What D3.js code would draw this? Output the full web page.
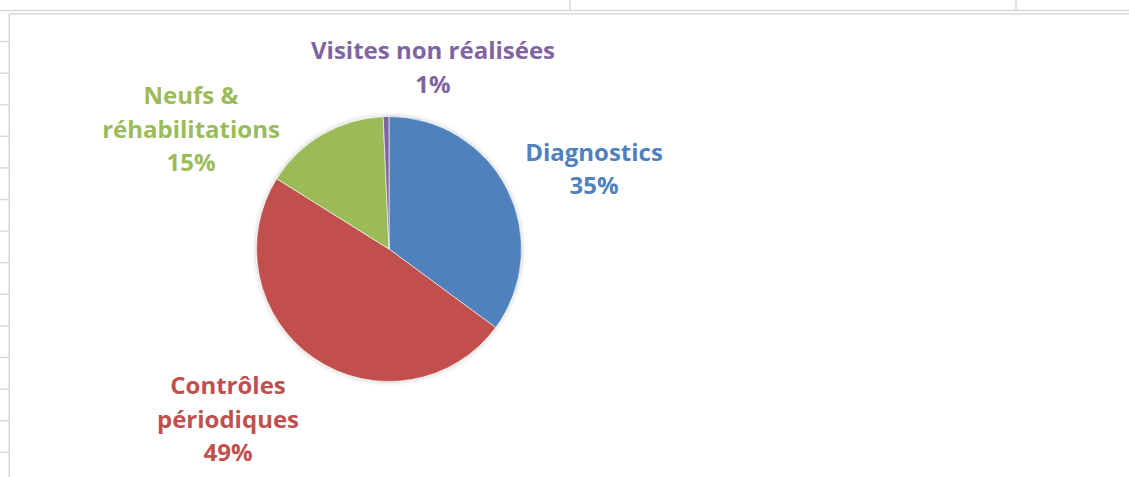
<!DOCTYPE html>
<html>
<head>
<meta charset="utf-8">
<script src="https://cdn.jsdelivr.net/npm/d3@7"></script>
<style>
  body { margin: 0; background: #fff; }
  svg { display: block; }
  .lbl { font-family: "Open Sans", sans-serif; font-weight: 700; font-size: 24px; }
</style>
</head>
<body>
<script>
// chart data
var categories = ["Diagnostics", "Contrôles périodiques", "Neufs & réhabilitations", "Visites non réalisées"];
var values = [35.1, 48.8, 15.4, 0.7];
var labelLines = [["Diagnostics"], ["Contrôles", "périodiques"], ["Neufs &", "réhabilitations"], ["Visites non réalisées"]];
var colors = ["#4f81bd", "#c0504d", "#9bbb59", "#8064a2"];

var width = 1129, height = 477;
var cx = 389, cy = 249, radius = 132.5;

var svg = d3.select("body").append("svg")
    .attr("width", width)
    .attr("height", height);

// spreadsheet grid behind the chart
var grid = svg.append("g").attr("stroke", "#d9d9d9").attr("stroke-width", 1.5);
grid.append("line").attr("x1", 0).attr("x2", width).attr("y1", 10.5).attr("y2", 10.5);
[570, 1016].forEach(function (x) {
    grid.append("line").attr("x1", x).attr("x2", x).attr("y1", 0).attr("y2", 10);
});
d3.range(41.5, height, 31.6).forEach(function (y) {
    grid.append("line").attr("x1", 0).attr("x2", 9).attr("y1", y).attr("y2", y);
});
// chart area border
grid.append("line").attr("x1", 9).attr("x2", width).attr("y1", 14).attr("y2", 14);
grid.append("line").attr("x1", 9.2).attr("x2", 9.2).attr("y1", 14).attr("y2", height);

var defs = svg.append("defs");
var shadow = defs.append("filter").attr("id", "shadow")
    .attr("x", "-20%").attr("y", "-20%").attr("width", "140%").attr("height", "140%");
shadow.append("feGaussianBlur").attr("in", "SourceAlpha").attr("stdDeviation", 2.5);
shadow.append("feOffset").attr("dx", 0).attr("dy", 0).attr("result", "blur");
shadow.append("feComponentTransfer").append("feFuncA").attr("type", "linear").attr("slope", 0.25);
var merge = shadow.append("feMerge");
merge.append("feMergeNode");
merge.append("feMergeNode").attr("in", "SourceGraphic");

var pie = d3.pie().sort(null).value(function (d) { return d; });
var arc = d3.arc().innerRadius(0).outerRadius(radius);
var total = d3.sum(values);

var g = svg.append("g").attr("transform", "translate(" + cx + "," + cy + ")");

g.append("g").attr("filter", "url(#shadow)")
    .selectAll("path")
    .data(pie(values))
    .enter().append("path")
    .attr("d", arc)
    .attr("fill", function (d, i) { return colors[i]; })
    .attr("stroke", "#fff")
    .attr("stroke-width", 0.6);

// label placement, relative to the pie centre (first baseline)
var labelAt = [[205, -88.3], [-161, 145], [-198, -144.7], [44, -190]];
var lineStep = 33.5;

var labels = g.selectAll(".lbl")
    .data(categories)
    .enter().append("text")
    .attr("class", "lbl")
    .attr("text-anchor", "middle")
    .attr("fill", function (d, i) { return colors[i]; })
    .attr("transform", function (d, i) { return "translate(" + labelAt[i][0] + "," + labelAt[i][1] + ")"; });

labels.each(function (d, i) {
    var t = d3.select(this);
    var lines = labelLines[i].concat([Math.round(values[i] / total * 100) + "%"]);
    lines.forEach(function (s, j) {
        t.append("tspan").attr("x", 0).attr("y", j * lineStep).text(s);
    });
});
</script>
</body>
</html>
